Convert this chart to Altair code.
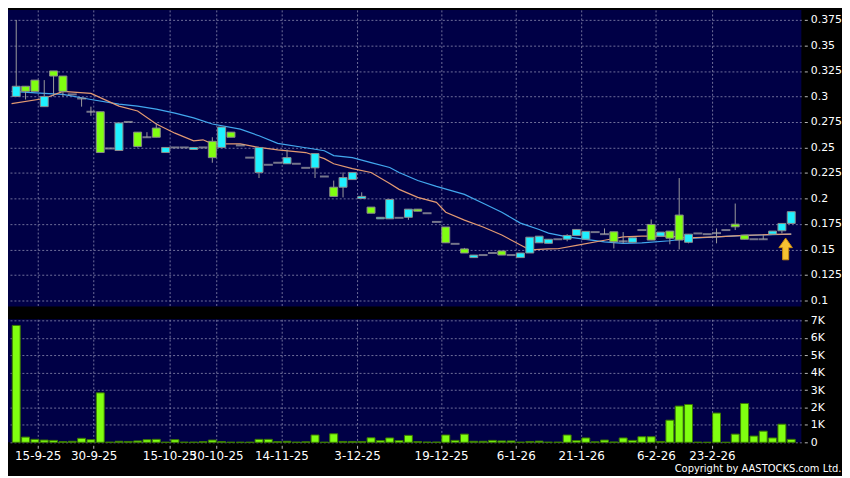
import altair as alt
import pandas as pd

# ---------------- data ----------------
opens = [0.300, 0.310, 0.316, 0.290, 0.325, 0.320, 0.302, 0.298, 0.285, 0.285,
         0.249, 0.247, 0.275, 0.265, 0.260, 0.269, 0.245, 0.250, 0.250, 0.248,
         0.250, 0.256, 0.250, 0.265, 0.252, 0.240, 0.2255, 0.233, 0.235, 0.234,
         0.234, 0.230, 0.230, 0.2215, 0.211, 0.211, 0.2185, 0.200, 0.1915, 0.180,
         0.180, 0.181, 0.1815, 0.1895, 0.1855, 0.177, 0.172, 0.1555, 0.1505, 0.142,
         0.1445, 0.1465, 0.1485, 0.1445, 0.142, 0.1465, 0.1565, 0.156, 0.160, 0.160,
         0.1637, 0.160, 0.167, 0.165, 0.1673, 0.158, 0.157, 0.169, 0.1745, 0.163,
         0.168, 0.1837, 0.157, 0.1657, 0.165, 0.166, 0.169, 0.1748, 0.164, 0.160,
         0.160, 0.165, 0.1683, 0.1755]
highs = [0.375, 0.310, 0.316, 0.316, 0.325, 0.320, 0.302, 0.298, 0.290, 0.285,
         0.249, 0.274, 0.275, 0.265, 0.265, 0.274, 0.250, 0.250, 0.250, 0.250,
         0.250, 0.260, 0.270, 0.265, 0.252, 0.240, 0.250, 0.233, 0.235, 0.248,
         0.234, 0.230, 0.244, 0.2215, 0.2175, 0.2255, 0.2255, 0.206, 0.1915, 0.1815,
         0.199, 0.181, 0.1895, 0.1895, 0.1855, 0.177, 0.172, 0.1555, 0.1515, 0.1445,
         0.1445, 0.1465, 0.1485, 0.1445, 0.1465, 0.162, 0.163, 0.160, 0.160, 0.165,
         0.1696, 0.1677, 0.167, 0.1706, 0.1673, 0.167, 0.1614, 0.169, 0.1794, 0.167,
         0.168, 0.220, 0.165, 0.1657, 0.165, 0.1706, 0.169, 0.195, 0.164, 0.160,
         0.164, 0.168, 0.1755, 0.187]
lows = [0.300, 0.297, 0.305, 0.290, 0.300, 0.300, 0.302, 0.290, 0.281, 0.245,
        0.249, 0.247, 0.275, 0.250, 0.260, 0.260, 0.245, 0.250, 0.250, 0.248,
        0.250, 0.235, 0.250, 0.260, 0.252, 0.240, 0.220, 0.233, 0.235, 0.234,
        0.234, 0.230, 0.220, 0.2215, 0.202, 0.201, 0.2185, 0.200, 0.1855, 0.180,
        0.180, 0.181, 0.179, 0.1875, 0.1855, 0.177, 0.1565, 0.1555, 0.1465, 0.142,
        0.1445, 0.1465, 0.1445, 0.1445, 0.142, 0.1465, 0.1565, 0.156, 0.160, 0.158,
        0.1637, 0.160, 0.167, 0.165, 0.151, 0.156, 0.157, 0.169, 0.1592, 0.163,
        0.155, 0.150, 0.156, 0.1657, 0.165, 0.156, 0.169, 0.169, 0.160, 0.160,
        0.160, 0.165, 0.1657, 0.1755]
closes = [0.310, 0.305, 0.305, 0.300, 0.320, 0.305, 0.302, 0.298, 0.285, 0.245,
          0.249, 0.274, 0.275, 0.251, 0.260, 0.260, 0.250, 0.250, 0.250, 0.250,
          0.250, 0.240, 0.270, 0.260, 0.252, 0.240, 0.250, 0.233, 0.235, 0.240,
          0.234, 0.230, 0.244, 0.2215, 0.202, 0.2205, 0.2255, 0.202, 0.1855, 0.1815,
          0.199, 0.181, 0.1895, 0.1875, 0.1855, 0.177, 0.1565, 0.1555, 0.1465, 0.1445,
          0.1445, 0.1465, 0.1445, 0.1445, 0.1465, 0.162, 0.163, 0.160, 0.160, 0.1637,
          0.1696, 0.1677, 0.167, 0.165, 0.1575, 0.158, 0.1614, 0.169, 0.1592, 0.167,
          0.161, 0.1592, 0.165, 0.1657, 0.165, 0.166, 0.169, 0.1722, 0.160, 0.160,
          0.160, 0.168, 0.1755, 0.187]
volumes = [6710, 300, 170, 130, 110, 40, 60, 230, 150, 2840,
           10, 60, 50, 80, 150, 170, 5, 150, 10, 10,
           40, 130, 40, 5, 5, 5, 170, 170, 40, 60,
           10, 30, 420, 5, 490, 50, 50, 50, 260, 100,
           250, 100, 400, 40, 15, 15, 420, 110, 470, 60,
           60, 110, 80, 80, 10, 50, 70, 10, 10, 420,
           100, 250, 30, 130, 20, 250, 110, 320, 320, 50,
           1270, 2080, 2170, 5, 0, 1680, 0, 470, 2230, 360,
           640, 250, 1040, 170]

price_ticks = [0.1, 0.125, 0.15, 0.175, 0.2, 0.225, 0.25, 0.275, 0.3, 0.325, 0.35, 0.375]
volume_ticks = [0, 1000, 2000, 3000, 4000, 5000, 6000, 7000]
date_labels = ["15-9-25", "30-9-25", "15-10-25", "30-10-25", "14-11-25", "3-12-25",
               "19-12-25", "6-1-26", "21-1-26", "6-2-26", "23-2-26"]
date_positions = [2.3, 8.3, 16.4, 21.4, 28.4, 36.5, 45.5, 53.5, 60.5, 68.5, 74.5]

ma_short_idx = [-0.5, 3, 5, 8, 11, 13, 15, 17, 19, 20, 21, 24, 26, 28, 31, 33, 34, 36, 38, 40,
                41, 43, 45, 46, 48, 50, 52, 54, 55, 57, 58, 60, 63, 65, 67, 70, 72, 75, 78, 81, 83]
ma_short_val = [0.293, 0.298, 0.305, 0.303, 0.2905, 0.2857, 0.273, 0.264, 0.2565, 0.2575,
                0.2535, 0.2535, 0.25, 0.2477, 0.245, 0.239, 0.234, 0.2293, 0.2254, 0.2147,
                0.2089, 0.2011, 0.1962, 0.1865, 0.1787, 0.172, 0.1641, 0.1544, 0.1496, 0.1505,
                0.1507, 0.154, 0.159, 0.1624, 0.163, 0.163, 0.1614, 0.1624, 0.1637, 0.1647, 0.165]
ma_long_idx = [-0.5, 3, 5, 8, 11, 13, 15, 17, 19, 21, 24, 26, 28, 31, 33, 34, 36, 38, 40, 41,
               43, 45, 48, 50, 52, 54, 56, 57, 59, 63, 65, 67, 70, 72, 75, 78, 81, 83]
ma_long_val = [0.305, 0.303, 0.302, 0.297, 0.2925, 0.2905, 0.2876, 0.2837, 0.279, 0.273,
               0.268, 0.2614, 0.254, 0.2497, 0.2468, 0.242, 0.24, 0.2351, 0.2303, 0.2254,
               0.2176, 0.2118, 0.204, 0.1953, 0.1865, 0.1758, 0.1695, 0.166, 0.1624, 0.1575,
               0.1559, 0.1565, 0.1585, 0.1608, 0.1624, 0.1637, 0.1644, 0.165]
arrow_idx = [82.4]
arrow_price = [0.1505]

# ---------------- styling ----------------
BG = "#000046"
CYAN = "#1ff0ff"
GREEN = "#80ff10"
GRID = "#7c7ca4"
FONT = "DejaVu Sans"

candles = pd.DataFrame({
    "i": list(range(len(opens))),
    "open": opens, "high": highs, "low": lows, "close": closes, "volume": volumes,
})
candles["dir"] = ["up" if c > o else ("down" if c < o else "flat") for o, c in zip(opens, closes)]
ma_short = pd.DataFrame({"i": ma_short_idx, "v": ma_short_val})
ma_long = pd.DataFrame({"i": ma_long_idx, "v": ma_long_val})
arrow_df = pd.DataFrame({"i": arrow_idx, "v": arrow_price})

x_scale = alt.Scale(domain=[-0.35, 83.55], nice=False, zero=False)
price_scale = alt.Scale(domain=[0.0941, 0.3848], nice=False, zero=False)
vol_scale = alt.Scale(domain=[0, 7060], nice=False)

grid_style = dict(grid=True, gridColor=GRID, gridDash=[2, 2], gridWidth=1, gridOpacity=0.9)

x_axis_top = alt.Axis(values=date_positions, labels=False, ticks=False, domain=False,
                      title=None, **grid_style)

labels_js = "[" + ",".join("'" + s + "'" for s in date_labels) + "]"
pos_js = "[" + ",".join(str(p) for p in date_positions) + "]"
x_axis_bottom = alt.Axis(values=date_positions, labelExpr=f"{labels_js}[indexof({pos_js}, datum.value)]",
                         domain=False, title=None, tickSize=3, offset=3, tickColor="#bbbbbb",
                         labelColor="white", labelFont=FONT, labelFontSize=12, labelPadding=2,
                         labelOverlap=False, labelFlush=False, **grid_style)

price_axis = alt.Axis(orient="right", values=price_ticks, format=".3~f", domain=False, title=None,
                      tickSize=3, offset=3, tickColor="#bbbbbb", labelPadding=3,
                      labelColor="white", labelFont=FONT, labelFontSize=11, **grid_style)
vol_axis = alt.Axis(orient="right", values=volume_ticks,
                    labelExpr="datum.value == 0 ? '0' : (datum.value / 1000) + 'K'",
                    domain=False, title=None, tickSize=3, offset=3, tickColor="#bbbbbb",
                    labelPadding=3, labelColor="white", labelFont=FONT, labelFontSize=11,
                    **grid_style)

X_top = alt.X("i:Q", scale=x_scale, axis=x_axis_top)
X_bot = alt.X("i:Q", scale=x_scale, axis=x_axis_bottom)

def PY(field):
    return alt.Y(field, type="quantitative", scale=price_scale, axis=price_axis)

line_long = alt.Chart(ma_long).mark_line(color="#42a8ee", strokeWidth=1.2).encode(x=X_top, y=PY("v"))
line_short = alt.Chart(ma_short).mark_line(color="#e39a72", strokeWidth=1.2).encode(x=X_top, y=PY("v"))

wicks = alt.Chart(candles).mark_rule(color="#9c9c9c", strokeWidth=1).encode(
    x=X_top, y=PY("low"), y2="high:Q")

bodies = alt.Chart(candles).transform_filter("datum.dir != 'flat'").mark_bar(
    size=8, stroke="#8c8c8c", strokeWidth=1).encode(
    x=X_top, y=PY("open"), y2="close:Q",
    color=alt.Color("dir:N", scale=alt.Scale(domain=["up", "down"], range=[CYAN, GREEN]), legend=None))

flats = alt.Chart(candles).transform_filter("datum.dir == 'flat'").mark_tick(
    orient="horizontal", size=9, thickness=2, color="#a8a8a8").encode(x=X_top, y=PY("open"))

arrow = alt.Chart(arrow_df).mark_point(
    shape="M0,-1L0.62,-0.12L0.28,-0.12L0.28,1L-0.28,1L-0.28,-0.12L-0.62,-0.12Z",
    filled=True, size=480, fill="#f6c232", stroke="#c98a10", strokeWidth=1, opacity=1).encode(
    x=X_top, y=PY("v"))

price_panel = alt.layer(line_long, line_short, wicks, bodies, flats, arrow).properties(width=800, height=299)

volume_panel = alt.Chart(candles).mark_bar(size=8, color=GREEN, stroke="#3b7a00", strokeWidth=1).encode(
    x=X_bot, y=alt.Y("volume:Q", scale=vol_scale, axis=vol_axis)).properties(width=800, height=124)

chart = alt.vconcat(price_panel, volume_panel, spacing=8).properties(
    padding=0,
    title=alt.TitleParams(text="Copyright by AASTOCKS.com Ltd.", orient="bottom", anchor="end",
                          frame="bounds", color="white", font=FONT, fontSize=10,
                          fontWeight="normal", offset=3),
).configure(background="black").configure_view(fill=BG, stroke=None)

chart.save("out.html", embed_options={"renderer": "svg", "actions": False})
